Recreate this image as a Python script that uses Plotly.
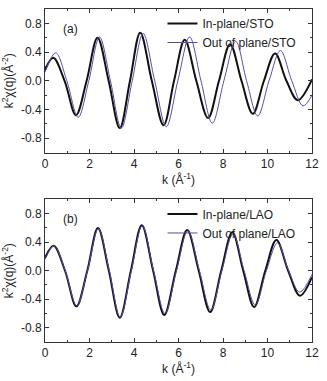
import plotly.graph_objects as go
from plotly.subplots import make_subplots

# Panel (a): STO substrate - extrema and zero crossings
k_in_sto = [0.0, 0.37, 0.88, 1.39, 1.87, 2.36, 2.86, 3.36, 3.82, 4.28, 4.80, 5.33, 5.80, 6.28, 6.80, 7.33, 7.82, 8.32, 8.83, 9.34, 9.84, 10.34, 10.85, 11.36, 12.0]
chi_in_sto = [0.15, 0.32, 0.0, -0.48, 0.0, 0.60, 0.0, -0.66, 0.0, 0.67, 0.0, -0.62, 0.0, 0.57, 0.0, -0.52, 0.0, 0.51, 0.0, -0.46, 0.0, 0.38, 0.0, -0.27, 0.02]

k_out_sto = [0.0, 0.48, 0.98, 1.49, 1.97, 2.45, 2.94, 3.43, 3.92, 4.41, 4.93, 5.45, 5.97, 6.50, 7.01, 7.52, 8.04, 8.57, 9.06, 9.56, 10.07, 10.58, 11.09, 11.60, 12.0]
chi_out_sto = [0.12, 0.39, 0.0, -0.51, 0.0, 0.61, 0.0, -0.66, 0.0, 0.66, 0.0, -0.64, 0.0, 0.61, 0.0, -0.59, 0.0, 0.55, 0.0, -0.49, 0.0, 0.42, 0.0, -0.35, -0.20]

# Panel (b): LAO substrate
k_in_lao = [0.0, 0.39, 0.90, 1.41, 1.90, 2.38, 2.87, 3.36, 3.86, 4.35, 4.86, 5.36, 5.88, 6.39, 6.91, 7.42, 7.92, 8.42, 8.91, 9.40, 9.90, 10.40, 10.93, 11.46, 12.0]
chi_in_lao = [0.18, 0.35, 0.0, -0.50, 0.0, 0.60, 0.0, -0.66, 0.0, 0.64, 0.0, -0.62, 0.0, 0.57, 0.0, -0.58, 0.0, 0.54, 0.0, -0.51, 0.0, 0.43, 0.0, -0.35, -0.09]

k_out_lao = [0.0, 0.40, 0.91, 1.42, 1.91, 2.40, 2.89, 3.38, 3.88, 4.37, 4.88, 5.39, 5.91, 6.42, 6.94, 7.45, 7.95, 8.45, 8.95, 9.45, 9.95, 10.45, 10.95, 11.45, 12.0]
chi_out_lao = [0.16, 0.35, 0.0, -0.49, 0.0, 0.59, 0.0, -0.65, 0.0, 0.63, 0.0, -0.60, 0.0, 0.56, 0.0, -0.55, 0.0, 0.52, 0.0, -0.48, 0.0, 0.39, 0.0, -0.30, -0.05]

x_ticks = [0, 2, 4, 6, 8, 10, 12]
y_ticks = [-0.8, -0.4, 0.0, 0.4, 0.8]
y_tick_text = ["-0.8", "-0.4", "0.0", "0.4", "0.8"]

BLACK = "#111111"
PURPLE = "#5b4aa8"
FONT = "Liberation Sans, Arial, sans-serif"

fig = make_subplots(rows=2, cols=1)

panels = [
    (1, k_in_sto, chi_in_sto, k_out_sto, chi_out_sto, "STO", "legend"),
    (2, k_in_lao, chi_in_lao, k_out_lao, chi_out_lao, "LAO", "legend2"),
]
for row, k_in, chi_in, k_out, chi_out, sub, leg in panels:
    fig.add_trace(
        go.Scatter(
            x=k_in, y=chi_in, mode="lines",
            line=dict(color=BLACK, width=2, shape="spline", smoothing=1.0),
            name=f"In-plane/{sub}", legend=leg,
        ),
        row=row, col=1,
    )
    fig.add_trace(
        go.Scatter(
            x=k_out, y=chi_out, mode="lines",
            line=dict(color=PURPLE, width=1, shape="spline", smoothing=1.0),
            name=f"Out of plane/{sub}", legend=leg,
        ),
        row=row, col=1,
    )

axis_common = dict(
    showline=True, linecolor="#333333", linewidth=1, mirror="ticks",
    ticks="inside", ticklen=4, tickcolor="#333333",
    showgrid=False, zeroline=False,
    tickfont=dict(size=12, color="#222222", family=FONT),
)
for row in (1, 2):
    fig.update_xaxes(
        range=[0, 12], tickvals=x_ticks,
        minor=dict(ticks="inside", dtick=1, ticklen=2, tickcolor="#333333"),
        title=dict(text="k (Å<sup>-1</sup>)", standoff=4,
                   font=dict(size=12, color="#222222", family=FONT)),
        row=row, col=1, **axis_common,
    )
    fig.update_yaxes(
        range=[-1.0, 1.0], tickvals=y_ticks, ticktext=y_tick_text,
        minor=dict(ticks="inside", dtick=0.2, ticklen=2, tickcolor="#333333"),
        title=dict(text="k<sup>2</sup>χ(q)(Å<sup>-2</sup>)", standoff=4,
                   font=dict(size=12, color="#222222", family=FONT)),
        row=row, col=1, **axis_common,
    )

fig.update_yaxes(domain=[0.569, 1.0], row=1, col=1)
fig.update_yaxes(domain=[0.0, 0.428], row=2, col=1)

legend_style = dict(
    xanchor="left", yanchor="top", bgcolor="rgba(0,0,0,0)",
    font=dict(size=12, color="#222222", family=FONT),
    itemwidth=30, tracegroupgap=0,
)
fig.update_layout(
    width=327, height=381,
    margin=dict(l=45, r=8, t=9, b=38),
    plot_bgcolor="white", paper_bgcolor="white",
    font=dict(family=FONT, color="#222222"),
    legend=dict(x=0.44, y=1.0, **legend_style),
    legend2=dict(x=0.44, y=0.428, **legend_style),
    annotations=[
        dict(text="(a)", xref="x domain", yref="y domain", x=0.06, y=0.86,
             xanchor="left", yanchor="middle", showarrow=False,
             font=dict(size=12, color="#222222", family=FONT)),
        dict(text="(b)", xref="x2 domain", yref="y2 domain", x=0.06, y=0.86,
             xanchor="left", yanchor="middle", showarrow=False,
             font=dict(size=12, color="#222222", family=FONT)),
    ],
)

# drop the page's default body margin so the figure sits at the window corner
fig.write_html(
    "out.html",
    config={"displayModeBar": False},
    post_script="document.body.style.margin='0';document.body.style.overflow='hidden';",
)
